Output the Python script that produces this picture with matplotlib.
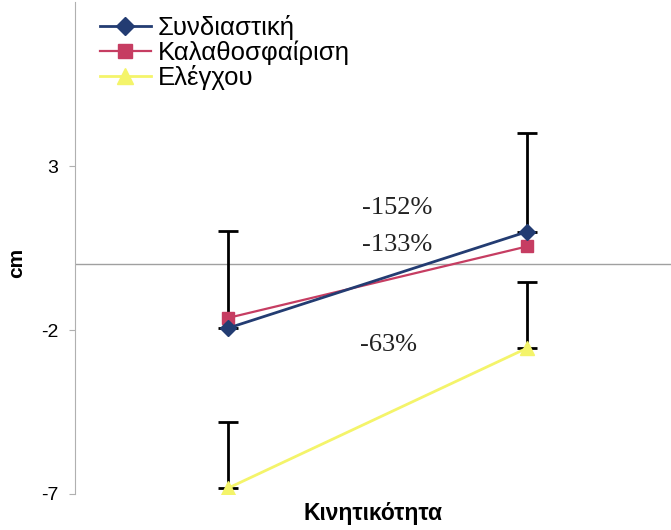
import numpy as np
import matplotlib
matplotlib.use("Agg")
import matplotlib.pyplot as plt
from matplotlib.lines import Line2D

# data
positions = [1, 2]
series_names = ["Συνδιαστική", "Καλαθοσφαίριση", "Ελέγχου"]
combined = [-1.94, 1.00]
basketball = [-1.63, 0.55]
control = [-6.82, -2.55]
combined_err = [2.95, 3.0]
control_err = [2.0, 2.0]
pct_labels = ["-152%", "-133%", "-63%"]
pct_x = [1.565, 1.565, 1.535]
pct_y = [1.72, 0.59, -2.45]
y_ticks = [3, -2, -7]

navy = "#233c72"
crimson = "#c63d62"
yellow = "#f4f46a"

plt.rcParams["font.family"] = ["Liberation Sans", "DejaVu Sans"]
plt.rcParams["axes.unicode_minus"] = False

fig = plt.figure(figsize=(6.71, 5.30), dpi=100)
ax = fig.add_axes([0.112, 0.068, 0.888, 0.928])

# zero line
ax.axhline(0, color="#a0a0a0", lw=1, zorder=1)

# upward-only error bars
ax.errorbar(positions, combined, yerr=[np.zeros(2), combined_err], fmt="none",
            ecolor="black", elinewidth=2, capsize=7, capthick=2, zorder=2)
ax.errorbar(positions, control, yerr=[np.zeros(2), control_err], fmt="none",
            ecolor="black", elinewidth=2, capsize=7, capthick=2, zorder=2)

ax.plot(positions, combined, color=navy, lw=2, marker="D", ms=8, zorder=4)
ax.plot(positions, basketball, color=crimson, lw=1.6, marker="s", ms=9, zorder=3)
ax.plot(positions, control, color=yellow, lw=2, marker="^", ms=10, zorder=3)

for t, x, y in zip(pct_labels, pct_x, pct_y):
    ax.text(x, y, t, ha="center", va="center", fontsize=19,
            family="Liberation Serif", color="#222222")

ax.set_xlim(0.488, 2.481)
ax.set_ylim(-7, 8)
ax.set_yticks(y_ticks)
ax.set_xticks([])
ax.tick_params(axis="y", length=4, color="#b0b0b0", labelsize=14, pad=8)
for s in ["top", "right", "bottom"]:
    ax.spines[s].set_visible(False)
ax.spines["left"].set_color("#b0b0b0")
ax.set_ylabel("cm", fontsize=15, fontweight="bold")
ax.yaxis.set_label_coords(-0.083, 0.47)
ax.set_xlabel("Κινητικότητα", fontsize=16.5, fontweight="bold", labelpad=6)

handles = [
    Line2D([], [], color=navy, lw=2, marker="D", ms=9),
    Line2D([], [], color=crimson, lw=1.6, marker="s", ms=10),
    Line2D([], [], color=yellow, lw=2, marker="^", ms=11),
]
fig.legend(handles, series_names, loc="upper left", bbox_to_anchor=(0.141, 0.982),
           frameon=False, fontsize=18.5, handlelength=2.0, handletextpad=0.25,
           labelspacing=0.02, borderpad=0.2, borderaxespad=0)

fig.savefig("out.png", dpi=100, facecolor="white")
